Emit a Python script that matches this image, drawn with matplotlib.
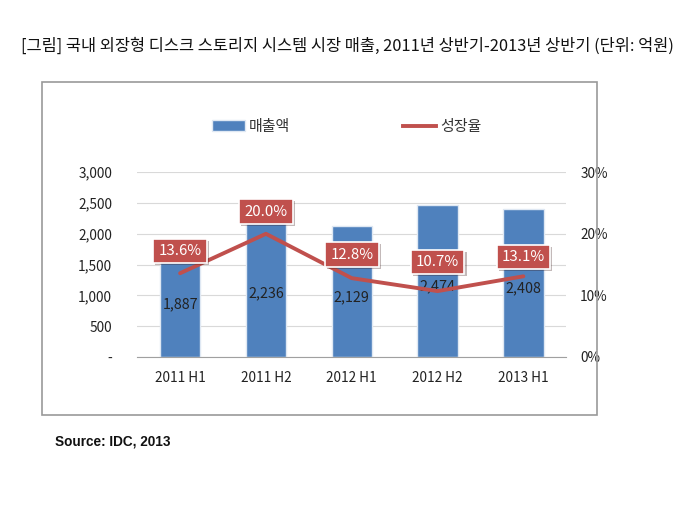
import matplotlib
matplotlib.use("Agg")
import matplotlib.pyplot as plt
from matplotlib.patches import Rectangle, Patch
from matplotlib.lines import Line2D
import matplotlib.patheffects as pe

plt.rcParams['font.family'] = ['Noto Sans CJK KR', 'DejaVu Sans']

categories = ['2011 H1', '2011 H2', '2012 H1', '2012 H2', '2013 H1']
sales = [1887, 2236, 2129, 2474, 2408]
growth = [13.6, 20.0, 12.8, 10.7, 13.1]
left_ticks = [0, 500, 1000, 1500, 2000, 2500, 3000]
left_labels = ['-', '500', '1,000', '1,500', '2,000', '2,500', '3,000']
right_ticks = [0, 10, 20, 30]
right_labels = ['0%', '10%', '20%', '30%']

title = '[그림] 국내 외장형 디스크 스토리지 시스템 시장 매출, 2011년 상반기-2013년 상반기 (단위: 억원)'
source = 'Source: IDC, 2013'

bar_color = '#4F81BD'
line_color = '#C0504D'
label_offsets_pt = [16, 16, 17, 21, 14]

fig = plt.figure(figsize=(7, 5.25), dpi=100)
fig.patch.set_facecolor('white')

# outer frame
fig.patches.append(Rectangle((0.06, 0.2095), 0.793, 0.634, transform=fig.transFigure,
                             fill=False, edgecolor='#999999', linewidth=1.2))

fig.text(0.497, 1 - 46/525, title, ha='center', va='center', fontsize=11.8, color='#111111')
fig.text(0.078, 1 - 441/525, source, ha='left', va='center', fontsize=9.8,
         fontweight='bold', family=['Liberation Sans', 'DejaVu Sans'], color='#111111')

ax = fig.add_axes([0.196, 0.32, 0.613, 0.352])
x = list(range(len(categories)))
bars = ax.bar(x, sales, width=0.47, color=bar_color, edgecolor='#dfe8f3', linewidth=1.0, zorder=2)
ax.set_xlim(-0.5, len(categories) - 0.5)
ax.set_ylim(0, 3000)
ax.set_yticks(left_ticks)
ax.set_yticklabels(left_labels)
ax.set_xticks(x)
ax.set_xticklabels(categories)
ax.grid(axis='y', color='#d9d9d9', linewidth=0.8, zorder=0)
ax.set_axisbelow(True)
for s in ['top', 'right', 'left']:
    ax.spines[s].set_visible(False)
ax.spines['bottom'].set_color('#a0a0a0')
ax.tick_params(axis='both', length=0, labelsize=9.8, colors='#222222')
ax.tick_params(axis='y', pad=18)
ax.tick_params(axis='x', pad=10)

ax.bar_label(bars, labels=[f'{v:,}' for v in sales], label_type='center',
             fontsize=10.3, color='#222222', padding=-4, zorder=5)

ax2 = ax.twinx()
ax2.set_ylim(0, 30)
ax2.set_yticks(right_ticks)
ax2.set_yticklabels(right_labels)
for s in ['top', 'right', 'left', 'bottom']:
    ax2.spines[s].set_visible(False)
ax2.tick_params(axis='y', length=0, labelsize=9.8, colors='#222222', pad=10)
ax2.plot(x, growth, color=line_color, linewidth=2.8, solid_capstyle='round', zorder=3)

for xi, g, off in zip(x, growth, label_offsets_pt):
    ax2.annotate(f'{g:.1f}%', (xi, g), xytext=(0, off), textcoords='offset points',
                 ha='center', va='center', fontsize=10.8, color='white',
                 bbox=dict(boxstyle='square,pad=0.35', facecolor=line_color,
                           edgecolor='white', linewidth=1.2,
                           path_effects=[pe.withSimplePatchShadow(offset=(1.5, -1.5), alpha=0.3)]),
                 zorder=6)

handles = [Patch(facecolor=bar_color, edgecolor='#dfe8f3'),
           Line2D([0], [0], color=line_color, linewidth=2.8)]
fig.legend(handles, ['매출액', '성장율'], loc='center', bbox_to_anchor=(0.495, 1 - 127/525),
           ncol=2, frameon=False, fontsize=10.8, columnspacing=7.5, handlelength=2.2,
           handletextpad=0.3, labelcolor='#333333')

fig.savefig('out.png', dpi=100, facecolor='white')
